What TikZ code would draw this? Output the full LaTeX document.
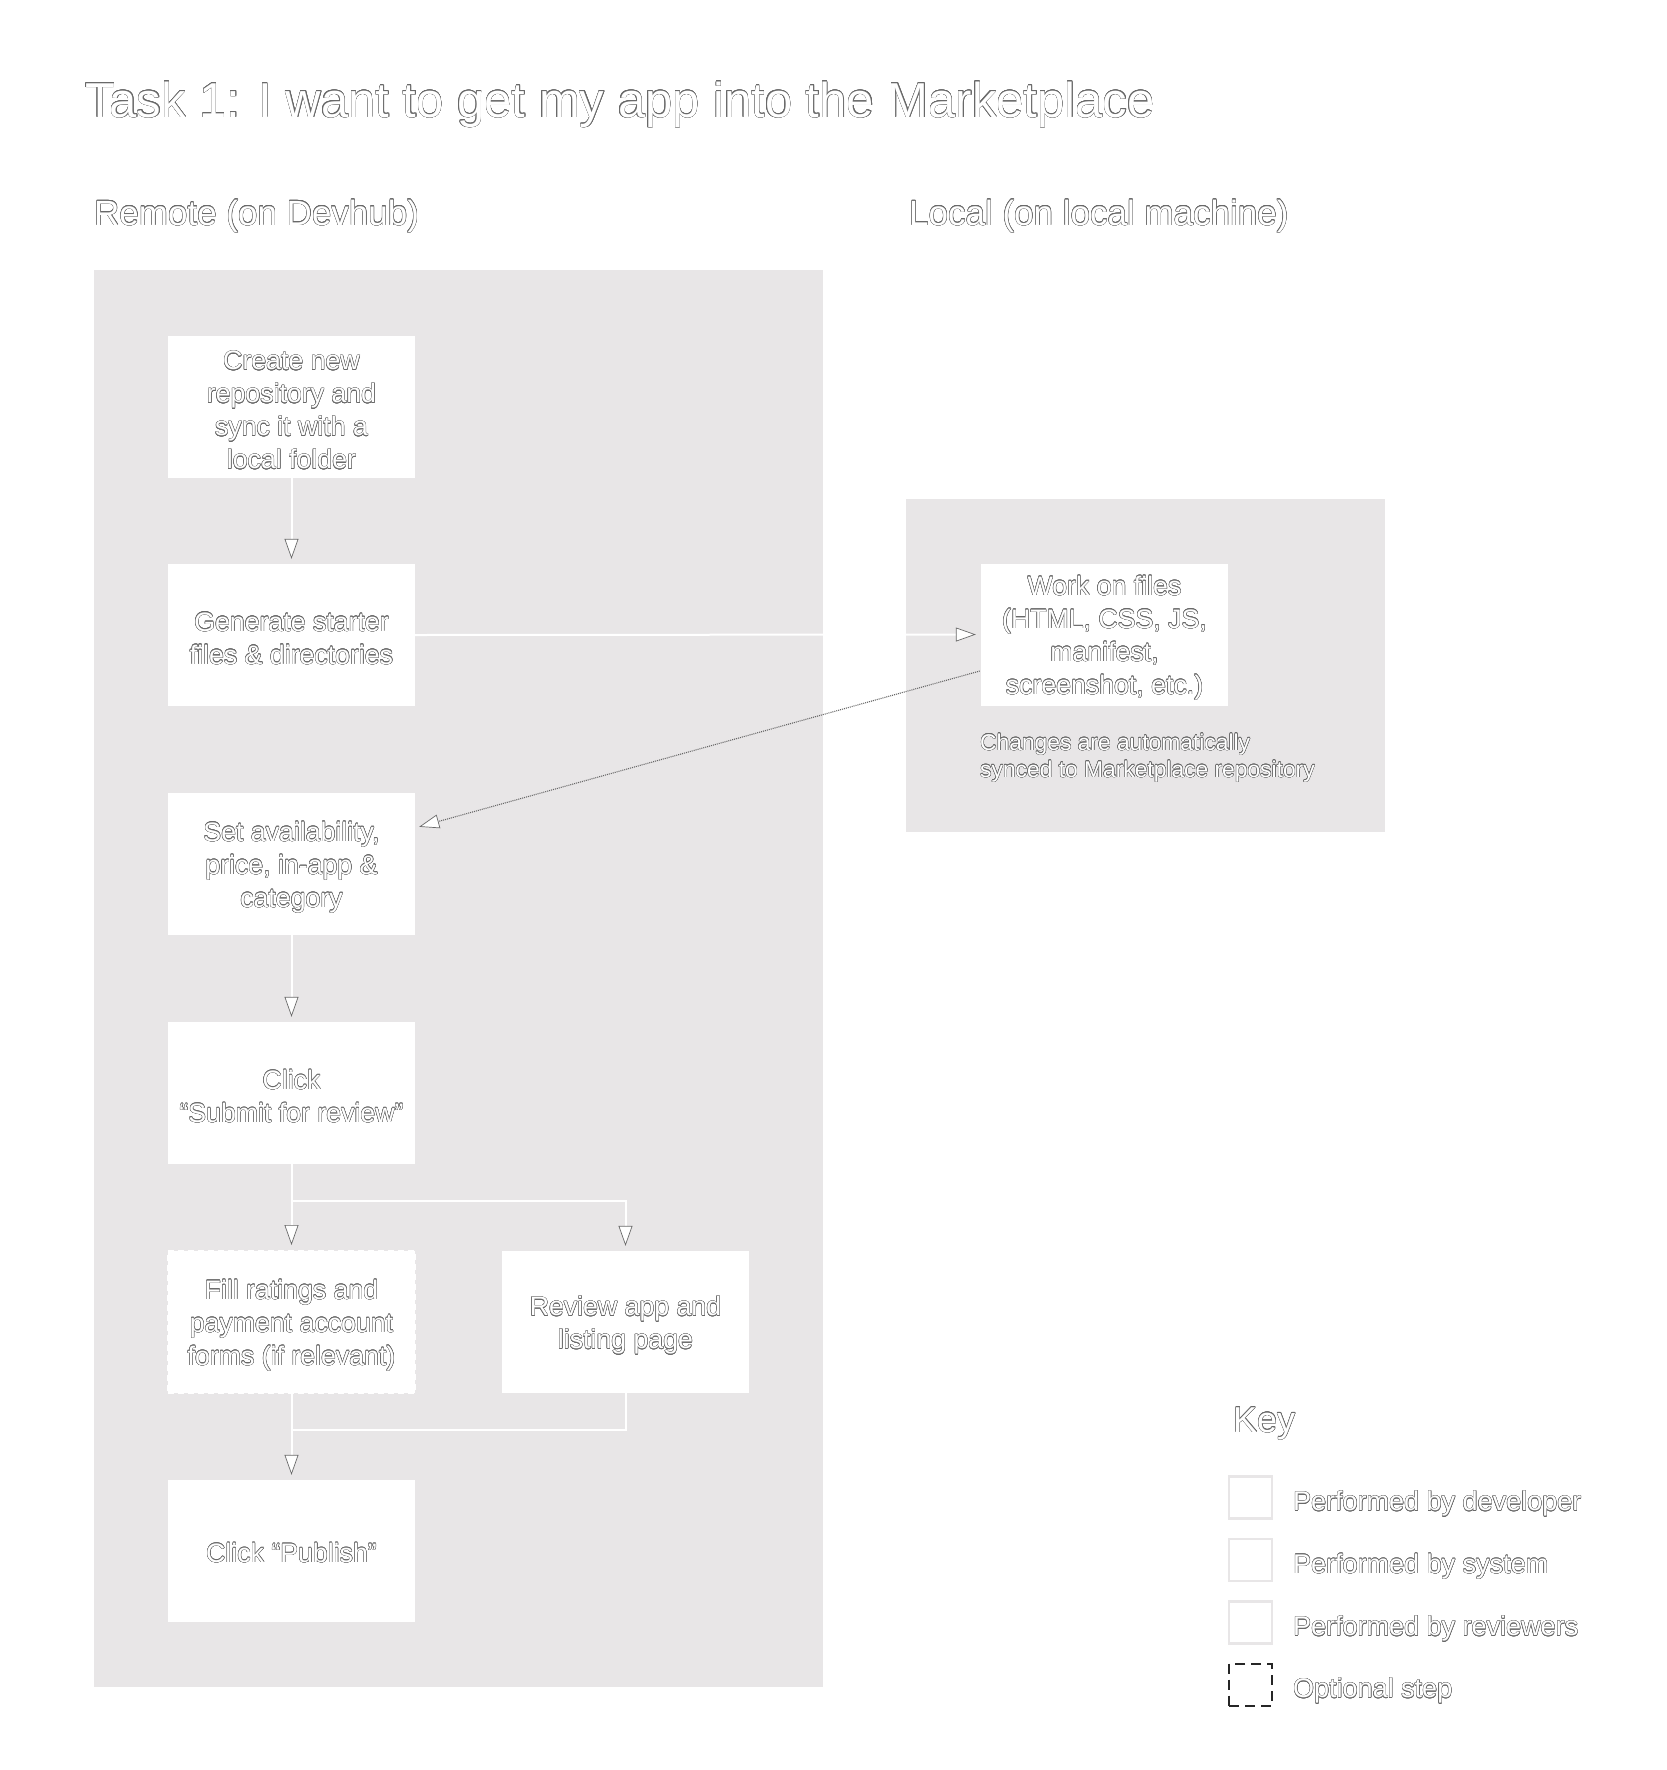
\documentclass[tikz,border=0pt]{standalone}
\usepackage{fontspec}
\setmainfont{Liberation Sans}
\usepackage{contour}
\contourlength{0.4pt}
\contournumber{16}
\usetikzlibrary{arrows.meta}
\definecolor{bggray}{RGB}{232,230,231}
\definecolor{olc}{RGB}{105,105,105}
\newcommand\ot[1]{\contour{olc}{#1}}
\begin{document}
\begin{tikzpicture}[x=1pt,y=-1pt,
  box/.style={fill=white, minimum width=247pt, minimum height=142pt, inner sep=0pt},
  optbox/.style={box, draw=white, line width=2pt, dash pattern=on 6pt off 4pt},
  bt/.style={text=white, inner sep=0pt, align=center, font=\fontsize{26.7}{33}\selectfont},
  conn/.style={draw=white, line width=2pt},
  arr/.style={conn, shorten >=5pt, -{Triangle[length=20pt,width=14pt,line width=0.7pt,color=olc,fill=white]}},
  dotarr/.style={draw=black!60, line width=1.1pt, dash pattern=on 1pt off 1pt, -{Triangle[length=20pt,width=14pt,line width=0.7pt,color=olc,fill=white,sep=0pt]}},
  head/.style={text=white, inner sep=0pt, anchor=base west},
  keysq/.style={draw=bggray, line width=2.5pt, fill=white, minimum width=43pt, minimum height=42pt, inner sep=0pt},
  keytxt/.style={text=white, inner sep=0pt, anchor=west, font=\fontsize{27}{32}\selectfont}
]
\useasboundingbox (0,0) rectangle (1666,1770);
\fill[white] (0,0) rectangle (1666,1770);

% containers
\fill[bggray] (94,270) rectangle (823,1687);
\fill[bggray] (906,499) rectangle (1385,832);

% headings
\node[head, font=\fontsize{49}{55}\selectfont] (title) at (85,117) {\ot{Task 1: I want to get my app into the Marketplace}};
\node[head, font=\fontsize{35}{40}\selectfont] (remote) at (94,225) {\ot{Remote (on Devhub)}};
\node[head, font=\fontsize{35}{40}\selectfont] (local) at (909,225) {\ot{Local (on local machine)}};

% steps
\node[box] (create) at (291.5,407) {};
\node[box] (gen) at (291.5,635) {};
\node[box] (set) at (291.5,864) {};
\node[box] (submit) at (291.5,1093) {};
\node[optbox] (fill) at (291.5,1322) {};
\node[box] (review) at (625.5,1322) {};
\node[box] (publish) at (291.5,1551) {};
\node[box] (work) at (1104.5,634.5) {};

\node[bt] (createT) at ([yshift=-3.5pt]create.center) {\ot{Create new}\\\ot{repository and}\\\ot{sync it with a}\\\ot{local folder}};
\node[bt] (genT) at ([yshift=-3.5pt]gen.center) {\ot{Generate starter}\\\ot{files \& directories}};
\node[bt] (setT) at ([yshift=-3.5pt]set.center) {\ot{Set availability,}\\\ot{price, in-app \&}\\\ot{category}};
\node[bt] (submitT) at ([yshift=-3.5pt]submit.center) {\ot{Click}\\\ot{“Submit for review”}};
\node[bt] (fillT) at ([yshift=-3.5pt]fill.center) {\ot{Fill ratings and}\\\ot{payment account}\\\ot{forms (if relevant)}};
\node[bt] (reviewT) at ([yshift=-3.5pt]review.center) {\ot{Review app and}\\\ot{listing page}};
\node[bt] (publishT) at ([yshift=-2pt]publish.center) {\ot{Click “Publish”}};
\node[bt] (workT) at ([yshift=-3.5pt]work.center) {\ot{Work on files}\\\ot{(HTML, CSS, JS,}\\\ot{manifest,}\\\ot{screenshot, etc.)}};
\node[text=white, inner sep=0pt, anchor=west, align=left, font=\fontsize{22.8}{27}\selectfont] (note) at (980,758) {\ot{Changes are automatically}\\\ot{synced to Marketplace repository}};

% connectors
\draw[arr] (create.south) -- (gen.north);
\draw[arr] (gen.east) -- (work.west);
\draw[dotarr] ([xshift=-1pt,yshift=-36.5pt]work.west) -- ([xshift=4pt,yshift=-34pt]set.north east);
\draw[arr] (set.south) -- (submit.north);
\draw[arr] (submit.south) -- (fill.north);
\draw[arr] (submit.south) -- ++(0,37) -| (review.north);
\draw[conn] (review.south) -- ++(0,37) -| (fill.south);
\draw[arr] (fill.south) -- (publish.north);

% key
\node[head, font=\fontsize{36}{40}\selectfont] (keyt) at (1233,1432) {\ot{Key}};
\node[keysq] (k1) at (1250.5,1497.5) {};
\node[keysq] (k2) at (1250.5,1560) {};
\node[keysq] (k3) at (1250.5,1622.5) {};
\node[keysq, draw=black!85, line width=2pt, dash pattern=on 10pt off 6pt] (k4) at (1250.5,1684.5) {};
\node[keytxt] (kt1) at (1293,1504) {\ot{Performed by developer}};
\node[keytxt] (kt2) at (1293,1566.5) {\ot{Performed by system}};
\node[keytxt] (kt3) at (1293,1629) {\ot{Performed by reviewers}};
\node[keytxt] (kt4) at (1293,1691) {\ot{Optional step}};
\end{tikzpicture}
\end{document}
